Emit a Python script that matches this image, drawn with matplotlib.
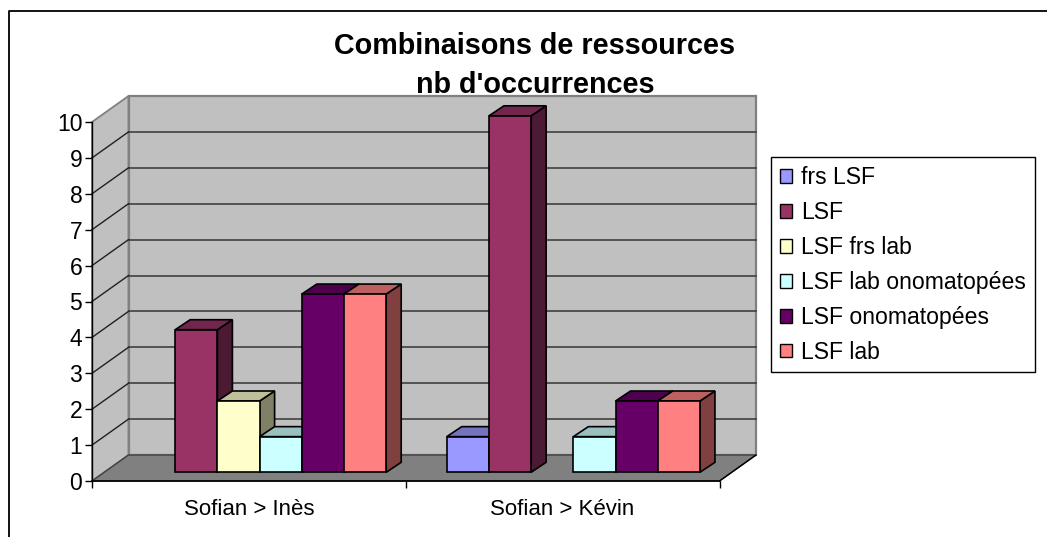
import matplotlib
matplotlib.use('Agg')
import matplotlib.pyplot as plt
from matplotlib.patches import Patch, Polygon
from matplotlib.colors import to_rgb

plt.rcParams['font.family'] = ['Liberation Sans', 'DejaVu Sans']

categories = ['Sofian > Inès', 'Sofian > Kévin']
series_names = ['frs LSF', 'LSF', 'LSF frs lab', 'LSF lab onomatopées',
                'LSF onomatopées', 'LSF lab']
frs_lsf = [0, 1]
lsf = [4, 10]
lsf_frs_lab = [2, 0]
lsf_lab_onom = [1, 1]
lsf_onom = [5, 2]
lsf_lab = [5, 2]
series = [frs_lsf, lsf, lsf_frs_lab, lsf_lab_onom, lsf_onom, lsf_lab]
colors = ['#9999FF', '#993366', '#FFFFCC', '#CCFFFF', '#660066', '#FF8080']

W, H = 1047, 537
fig = plt.figure(figsize=(W / 100, H / 100), dpi=100, facecolor='white')

# axes box is the front plane of the 3d chart
x0, x1, y0, y1 = 92, 719.5, 481, 122
ax = fig.add_axes([x0 / W, 1 - y0 / H, (x1 - x0) / W, (y0 - y1) / H])
ax.set_xlim(0, len(categories))
ax.set_ylim(0, 10)
ax.patch.set_visible(False)

ux = (x1 - x0) / len(categories)  # pixels per category
uy = (y0 - y1) / 10  # pixels per unit


def off(x, y, px, py):
    # shift a data point by a pixel offset (oblique projection)
    return (x + px / ux, y + py / uy)


def poly(pts, fc, ec, lw=1.0, z=1):
    ax.add_patch(Polygon(pts, closed=True, facecolor=fc, edgecolor=ec, lw=lw,
                         zorder=z, clip_on=False, joinstyle='miter'))


def shade(c, k):
    return tuple(v * k for v in to_rgb(c))


DX, DY = 36.5, 26
xn = len(categories)
# walls and floor
poly([(0, 0), off(0, 0, DX, DY), off(0, 10, DX, DY), (0, 10)], '#C0C0C0', '#808080', 1.3)
poly([off(0, 0, DX, DY), off(xn, 0, DX, DY), off(xn, 10, DX, DY), off(0, 10, DX, DY)],
     '#C0C0C0', '#808080', 1.6)
poly([(0, 0), (xn, 0), off(xn, 0, DX, DY), off(0, 0, DX, DY)], '#808080', '#404040', 1.0)

# gridlines, back wall then side wall
for v in range(1, 10):
    a, b = off(0, v, DX, DY), off(xn, v, DX, DY)
    ax.plot([a[0], b[0]], [a[1], b[1]], color='#404040', lw=1.2, zorder=2, clip_on=False)
    ax.plot([0, a[0]], [v, a[1]], color='#202020', lw=1.0, zorder=2, clip_on=False)
a = off(xn, 0, DX, DY)
ax.plot([xn, a[0]], [0, a[1]], color='black', lw=1.0, zorder=2, clip_on=False)

# bars
bar_w = 42.2 / ux
start = 41 / ux
fy = 8.7   # front face sits a bit behind the axis plane
bar_scale = 0.993  # bars are a little shorter there
for c in range(len(categories)):
    for s, vals in enumerate(series):
        v = vals[c] * bar_scale
        if v == 0:
            continue
        left = c + start + s * bar_w
        right = left + bar_w
        bl, br = off(left, 0, 0, fy), off(right, 0, 0, fy)
        tl, tr = off(left, v, 0, fy), off(right, v, 0, fy)
        d = (15, 10)
        z = 3 + c * 10 + s * 0.1
        poly([br, off(*br, *d), off(*tr, *d), tr], shade(colors[s], 0.5), 'black', 1.2, z)
        poly([tl, tr, off(*tr, *d), off(*tl, *d)], shade(colors[s], 0.75), 'black', 1.2, z)
        poly([bl, br, tr, tl], colors[s], 'black', 1.2, z)

# axis
ax.set_yticks(range(0, 11))
ax.set_xticks(range(0, xn + 1))
ax.set_xticklabels([])
ax.set_xticks([i + 0.5 for i in range(xn)], minor=True)
ax.set_xticklabels(categories, minor=True)
ax.tick_params(axis='x', which='minor', length=0, labelsize=16, pad=13)
ax.tick_params(axis='x', which='major', length=5, width=1, direction='out')
ax.tick_params(axis='y', length=5, width=1, direction='out', labelsize=16.5, pad=2)
for name in ('top', 'right'):
    ax.spines[name].set_visible(False)
ax.spines['left'].set_linewidth(1)
ax.spines['bottom'].set_linewidth(1.2)
ax.spines['left'].set_zorder(2.5)
ax.spines['bottom'].set_zorder(2.5)

fig.text(534.5 / W, 1 - 46.5 / H, 'Combinaisons de ressources', ha='center', va='center',
         fontsize=20.7, fontweight='bold')
fig.text(535.5 / W, 1 - 85 / H, "nb d'occurrences", ha='center', va='center',
         fontsize=20.7, fontweight='bold')

# legend
handles = [Patch(facecolor=c, edgecolor='black', lw=1) for c in colors]
leg = fig.legend(handles, series_names, loc='upper left',
                 bbox_to_anchor=(771 / W, 1 - 157 / H), borderaxespad=0,
                 fontsize=16.6, fancybox=False, framealpha=1, edgecolor='black',
                 handlelength=0.55, handleheight=0.55, handletextpad=0.38,
                 labelspacing=0.52, borderpad=0.38)
leg.get_frame().set_linewidth(1)

# outer chart frame, cut by the picture on the right and at the bottom
fig.add_artist(plt.Line2D([9 / W, 9 / W, 1], [0, 1 - 10.5 / H, 1 - 10.5 / H],
                          color='black', lw=1.3))

fig.savefig('out.png', dpi=100)
